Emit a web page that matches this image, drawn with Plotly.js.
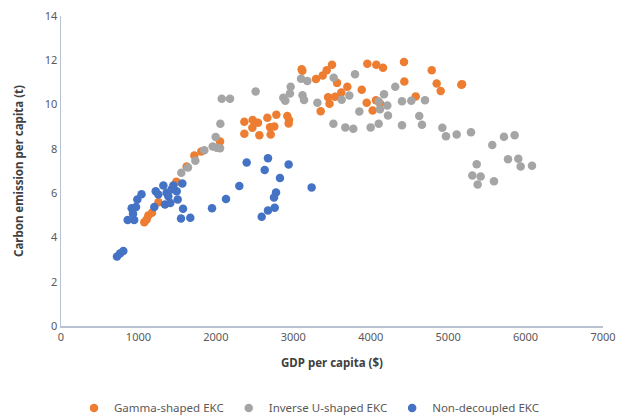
<!DOCTYPE html>
<html>
<head>
<meta charset="utf-8">
<script src="https://cdn.plot.ly/plotly-3.0.1.min.js"></script>
<style>
  html, body { margin: 0; padding: 0; background: #ffffff; }
  #chart { width: 618px; height: 418px; }
</style>
</head>
<body>
<div id="chart"></div>
<script>
// GDP per capita ($) and carbon emission per capita (t) by EKC type
const gammaGdp = [1076, 1106, 1128, 1175, 1259, 1490, 1623, 1722, 1812, 2054,
  2368, 2368, 2476, 2544, 2471, 2562, 2665, 2781, 2700, 2755, 2708, 2923, 2945, 2940,
  3108, 3117, 3293, 3380, 3432, 3500, 3565, 3698, 3620, 3539, 3450, 3468, 3354,
  3884, 3956, 4072, 4159, 3948, 4025, 4068, 4120, 4430, 4434, 4581, 4788, 4852,
  4904, 5170, 5180];
const gammaCo2 = [4.69, 4.81, 4.99, 5.12, 5.59, 6.52, 7.20, 7.70, 7.88, 8.33,
  9.22, 8.68, 9.30, 9.18, 8.95, 8.62, 9.40, 9.54, 8.98, 9.01, 8.65, 9.48, 9.30, 9.15,
  11.59, 11.53, 11.15, 11.31, 11.55, 11.80, 10.98, 10.80, 10.55, 10.35, 10.33, 10.04, 9.70,
  10.67, 11.84, 11.80, 11.66, 10.08, 9.73, 10.19, 10.05, 11.92, 11.04, 10.37, 11.55, 10.95,
  10.61, 10.89, 10.92];

const invUGdp = [1554, 1640, 1735, 1851, 1959, 1998, 2011, 2054, 2058, 2076, 2183,
  2514, 2871, 2897, 2966, 2957, 3100, 3181, 3119, 3139, 3311, 3522, 3518, 3797,
  3724, 3625, 3853, 3672, 3775, 3999, 4103, 4103, 4120, 4172, 4214, 4223, 4317,
  4404, 4524, 4404, 4627, 4662, 4701, 4925, 4972, 5110, 5295, 5570, 5721, 5859,
  5773, 5906, 5937, 6083, 5369, 5312, 5420, 5381, 5592];
const invUCo2 = [6.92, 7.16, 7.46, 7.94, 8.11, 8.54, 8.05, 8.03, 9.13, 10.26, 10.26,
  10.59, 10.31, 10.17, 10.80, 10.50, 11.17, 11.06, 10.42, 10.21, 10.08, 11.21, 9.13, 11.37,
  10.41, 10.22, 9.69, 8.97, 8.91, 8.97, 9.13, 10.14, 9.79, 10.47, 9.96, 9.51, 10.80,
  10.15, 10.17, 9.07, 9.48, 9.09, 10.20, 8.95, 8.57, 8.65, 8.75, 8.17, 8.55, 8.62,
  7.53, 7.55, 7.20, 7.24, 7.31, 6.80, 6.75, 6.39, 6.54];

const nonDecGdp = [723, 762, 805, 861, 945, 930, 913, 969, 986, 1040, 1205, 1223,
  1257, 1322, 1343, 1364, 1386, 1412, 1430, 1451, 1494, 1507, 1567, 1576, 1550, 1670,
  1950, 2131, 2303, 2398, 2631, 2673, 2940, 2828, 2777, 2751, 2760, 2673, 2592, 3237];
const nonDecCo2 = [3.14, 3.27, 3.39, 4.79, 4.79, 5.07, 5.32, 5.37, 5.71, 5.95, 5.37, 6.09,
  5.94, 6.35, 5.49, 6.02, 5.86, 5.56, 6.18, 6.35, 6.09, 5.71, 6.44, 5.29, 4.85, 4.89,
  5.32, 5.74, 6.32, 7.38, 7.05, 7.58, 7.29, 6.68, 6.03, 5.80, 5.34, 5.22, 4.93, 6.26];

const seriesNames = ['Gamma-shaped EKC', 'Inverse U-shaped EKC', 'Non-decoupled EKC'];
const seriesColors = ['#ED7D31', '#A5A5A5', '#4472C4'];

const xTitle = 'GDP per capita ($)';
const yTitle = 'Carbon emission per capita (t)';

const FONT = '"Noto Sans", "Open Sans", sans-serif';

function scatter(x, y, i) {
  return {
    type: 'scatter',
    mode: 'markers',
    name: seriesNames[i],
    x: x,
    y: y,
    marker: { color: seriesColors[i], size: 8.5, line: { width: 0 } },
    hoverinfo: 'x+y+name'
  };
}

const traces = [
  scatter(gammaGdp, gammaCo2, 0),
  scatter(invUGdp, invUCo2, 1),
  scatter(nonDecGdp, nonDecCo2, 2)
];

const axisLine = '#B8C2D0';

const layout = {
  width: 618,
  height: 418,
  margin: { l: 61, r: 15, t: 16, b: 91.5 },
  paper_bgcolor: '#ffffff',
  plot_bgcolor: '#ffffff',
  font: { family: FONT, size: 11, color: '#595959' },
  showlegend: true,
  legend: {
    orientation: 'h',
    x: 0.5, xanchor: 'center', xref: 'container',
    y: 0.024, yanchor: 'middle', yref: 'container',
    font: { family: FONT, size: 11.5, color: '#595959' },
    itemsizing: 'trace',
    tracegroupgap: 0
  },
  xaxis: {
    range: [0, 7000],
    dtick: 1000,
    tick0: 0,
    showgrid: false,
    zeroline: false,
    showline: true,
    linecolor: axisLine,
    linewidth: 1.5,
    ticks: '',
    tickfont: { family: FONT, size: 11, color: '#595959' },
    title: { text: '<b>' + xTitle + '</b>', font: { family: FONT, size: 11.5, color: '#404040' }, standoff: 16 }
  },
  yaxis: {
    range: [0, 14],
    dtick: 2,
    tick0: 0,
    showgrid: false,
    zeroline: false,
    showline: true,
    linecolor: axisLine,
    linewidth: 1.5,
    ticks: '',
    tickfont: { family: FONT, size: 11, color: '#595959' },
    title: { text: '<b>' + yTitle + '</b>', font: { family: FONT, size: 11.5, color: '#404040' }, standoff: 18 }
  }
};

Plotly.newPlot('chart', traces, layout, { displayModeBar: false, staticPlot: true });
</script>
</body>
</html>
